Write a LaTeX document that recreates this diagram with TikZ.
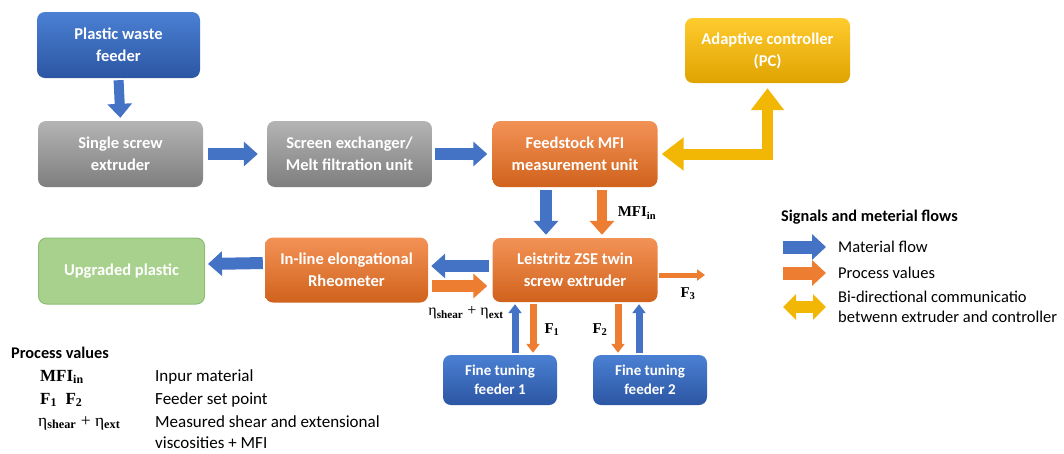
\documentclass[tikz,border=0pt]{standalone}
\usepackage{fontspec}
\setmainfont{Carlito}
\newfontfamily\serifb{Liberation Serif}
\usetikzlibrary{arrows.meta}

\definecolor{flowblue}{HTML}{4472C4}
\definecolor{procorange}{HTML}{ED7D31}
\definecolor{commgold}{HTML}{F2B705}
\definecolor{blueTop}{HTML}{4A80D3}
\definecolor{blueBot}{HTML}{2C56A3}
\definecolor{grayTop}{HTML}{B4B4B4}
\definecolor{grayBot}{HTML}{7E7E7E}
\definecolor{orangeTop}{HTML}{F39256}
\definecolor{orangeBot}{HTML}{D0621C}
\definecolor{goldTop}{HTML}{FFCB2E}
\definecolor{goldBot}{HTML}{DFA300}
\definecolor{greenFill}{HTML}{A9D18E}
\definecolor{greenLine}{HTML}{8CBF72}

\tikzset{
  box/.style={rounded corners=8pt, minimum width=165pt, minimum height=66pt,
    align=center, text=white, inner sep=0pt,
    font=\bfseries\fontsize{16.5}{22}\selectfont},
  bluebox/.style={box, top color=blueTop, bottom color=blueBot},
  graybox/.style={box, top color=grayTop, bottom color=grayBot},
  orangebox/.style={box, top color=orangeTop, bottom color=orangeBot},
  goldbox/.style={box, top color=goldTop, bottom color=goldBot},
  greenbox/.style={box, fill=greenFill, draw=greenLine, line width=1pt},
  feederbox/.style={bluebox, minimum width=114pt, minimum height=50pt,
    font=\bfseries\fontsize{15}{19}\selectfont},
  blockflow/.style={draw=flowblue, line width=12pt,
    -{Triangle[length=14pt,width=24pt]}},
  blockproc/.style={draw=procorange, line width=12pt,
    -{Triangle[length=14pt,width=24pt]}},
  thinflow/.style={draw=flowblue, line width=7pt,
    -{Triangle[length=9pt,width=13pt]}},
  thinproc/.style={draw=procorange, line width=7pt,
    -{Triangle[length=9pt,width=13pt]}},
  commarrow/.style={draw=commgold, line width=11pt, line join=miter,
    {Triangle[length=22pt,width=32pt]}-{Triangle[length=22pt,width=32pt]}},
  valuelabel/.style={font=\serifb\bfseries\fontsize{15}{17}\selectfont, inner sep=0pt},
  legendtext/.style={font=\fontsize{16.5}{20}\selectfont, anchor=west, inner sep=0pt},
  keytext/.style={font=\fontsize{17}{21}\selectfont, anchor=west, inner sep=0pt},
  headtext/.style={font=\bfseries\fontsize{16.3}{20}\selectfont, anchor=west, inner sep=0pt},
}

\begin{document}
\begin{tikzpicture}[x=1pt,y=-1pt]
\useasboundingbox (0,0) rectangle (1064,453);

% process blocks
\node[bluebox, minimum width=163pt] (pwf) at (118.5,45) {Plastic waste\\feeder};
\node[graybox] (sse) at (120.5,154) {Single screw\\extruder};
\node[graybox] (scr) at (349.5,154) {Screen exchanger/\\Melt filtration unit};
\node[orangebox] (fmu) at (575,154) {Feedstock MFI\\measurement unit};
\node[goldbox, minimum height=65pt] (ctl) at (767.5,50.5) {Adaptive controller\\(PC)};
\node[orangebox, minimum height=64pt] (lzt) at (575,270) {Leistritz ZSE twin\\screw extruder};
\node[orangebox, minimum width=163pt, minimum height=65pt] (rheo) at (346.5,270) {In-line elongational\\Rheometer};
\node[greenbox, minimum width=166pt, minimum height=66pt] (upg) at (121.5,271) {Upgraded plastic};
\node[feederbox] (ft1) at (500,380) {Fine tuning\\feeder 1};
\node[feederbox] (ft2) at (650,380) {Fine tuning\\feeder 2};

% material flow
\draw[blockflow, line width=10pt, shorten <=2pt, shorten >=3pt] (pwf.south) -- (sse.north);
\draw[blockflow, shorten <=5pt, shorten >=9pt] (sse.east) -- (scr.west);
\draw[blockflow, shorten <=3pt, shorten >=5pt] (scr.east) -- (fmu.west);
\draw[blockflow, shorten <=3pt, shorten >=3pt] ([xshift=-29pt]fmu.south) -- ([xshift=-29pt]lzt.north);
\draw[blockflow, shorten <=3pt, shorten >=3pt] ([yshift=4pt]lzt.west) -- ([yshift=4pt]rheo.east);
\draw[blockflow, shorten <=2pt, shorten >=3pt] ([yshift=7pt]rheo.west) -- ([yshift=7pt]upg.east);
\draw[thinflow, shorten <=2pt, shorten >=2pt] ([xshift=15pt]ft1.north) -- ([xshift=15pt]ft1.north |- lzt.south);
\draw[thinflow, shorten <=2pt, shorten >=2pt] ([xshift=-11pt]ft2.north) -- ([xshift=-11pt]ft2.north |- lzt.south);

% process values
\draw[blockproc, line width=10pt, shorten <=3pt, shorten >=3pt] ([xshift=27pt]fmu.south) -- ([xshift=27pt]lzt.north);
\draw[blockproc, shorten <=4pt, shorten >=5pt] ([yshift=-16pt]rheo.east) -- ([yshift=-16pt]lzt.west);
\draw[thinproc, shorten <=2pt, shorten >=2pt] ([xshift=33pt]ft1.north |- lzt.south) -- ([xshift=33pt]ft1.north);
\draw[thinproc, shorten <=2pt, shorten >=2pt] ([xshift=-32pt]ft2.north |- lzt.south) -- ([xshift=-32pt]ft2.north);
\coordinate (f3end) at (705,275);
\draw[draw=procorange, line width=5pt, -{Triangle[length=8pt,width=11pt]}, shorten <=1pt] ([yshift=-5pt]lzt.east) -- (f3end);

% communication with the controller
\draw[commarrow, shorten <=4pt, shorten >=5pt] (fmu.east) -| (ctl.south);

% value labels
\node[valuelabel] (lmfi) at (637,213) {MFI\textsubscript{in}};
\node[valuelabel, font=\serifb\bfseries\fontsize{16}{18}\selectfont] (leta) at (466,313) {\mdseries η\textsubscript{\bfseries shear} + η\textsubscript{\bfseries ext}};
\node[valuelabel] (lf1) at (552,330) {F\textsubscript{1}};
\node[valuelabel] (lf2) at (600,330) {F\textsubscript{2}};
\node[valuelabel] (lf3) at (688,294) {F\textsubscript{3}};

% legend
\node[headtext] (lghead) at (781,217) {Signals and meterial flows};
\coordinate (lga) at (783,247); \coordinate (lgb) at (826,247);
\draw[blockflow, line width=13pt, -{Triangle[length=14pt,width=25pt]}] (lga) -- (lgb);
\node[legendtext] (lgflow) at (838,247) {Material flow};
\coordinate (lgc) at (783,273); \coordinate (lgd) at (826,273);
\draw[blockproc, line width=13pt, -{Triangle[length=14pt,width=25pt]}] (lgc) -- (lgd);
\node[legendtext] (lgproc) at (838,273) {Process values};
\coordinate (lge) at (783,307); \coordinate (lgf) at (826,307);
\draw[draw=commgold, line width=12pt,
  {Triangle[length=13pt,width=25pt]}-{Triangle[length=13pt,width=25pt]}] (lge) -- (lgf);
\node[legendtext, align=left] (lgcomm) at (838,307) {Bi-directional communicatio\\betwenn extruder and controller};

% process value key
\node[headtext] (pvhead) at (11,353) {Process values};
\node[valuelabel, anchor=west, font=\serifb\bfseries\fontsize{17}{19}\selectfont] (pv1) at (40,377) {MFI\textsubscript{in}};
\node[valuelabel, anchor=west, font=\serifb\bfseries\fontsize{17}{19}\selectfont] (pv2) at (40,400) {F\textsubscript{1}\ \ F\textsubscript{2}};
\node[valuelabel, anchor=west, font=\serifb\bfseries\fontsize{17.5}{19}\selectfont] (pv3) at (38,423) {\mdseries η\textsubscript{\bfseries shear} + η\textsubscript{\bfseries ext}};
\node[keytext] (pd1) at (155,377) {Inpur material};
\node[keytext] (pd2) at (155,400) {Feeder set point};
\node[keytext, align=left] (pd3) at (155,432) {Measured shear and extensional\\viscosities + MFI};
\end{tikzpicture}
\end{document}
